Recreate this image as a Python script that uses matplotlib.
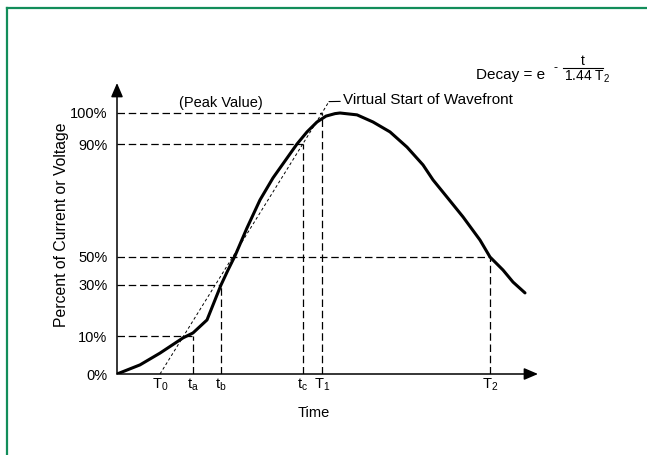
import numpy as np
import matplotlib
matplotlib.use("Agg")
import matplotlib.pyplot as plt
from matplotlib.lines import Line2D

plt.rcParams['font.family'] = ['Liberation Sans', 'DejaVu Sans']
plt.rcParams['mathtext.default'] = 'regular'

# wave shape (time in arbitrary units, value in %)
wave_t = [0.0, 2.3, 4.3, 6.6, 7.6, 9.0, 10.4, 11.1, 11.8, 13.0, 14.3, 15.6,
          17.0, 18.0, 19.0, 20.0, 20.9, 21.8, 22.3, 24.0, 25.6, 27.3, 29.0,
          30.6, 31.6, 33.0, 34.6, 36.3, 37.3, 38.6, 39.6, 40.8]
wave_pct = [0, 2.4, 5.5, 9.5, 11.2, 16.3, 30, 40.7, 50.4, 60.3, 70.2, 78.0,
            85.0, 90, 93.9, 97.1, 99.0, 99.8, 100, 99.4, 97.1, 93.9, 88.9,
            82.6, 77.3, 71.2, 64.2, 56.0, 50, 40.7, 32.1, 26.9]

# y levels and their labels
levels = [0, 10, 30, 50, 90, 100]
level_labels = ['0%', '10%', '30%', '50%', '90%', '100%']

# time marks
t_names = ['T$_0$', 't$_a$', 't$_b$', 't$_c$', 'T$_1$', 'T$_2$']
t_marks = [4.3, 7.6, 10.4, 18.6, 20.5, 37.3]
# level each time mark drops from
mark_level = [0, 10, 30, 90, 100, 50]

# virtual front line: T0 -> T1, extended a bit past the peak
front_t = [4.3, 20.5, 21.1]
front_pct = [0, 100, 103.3]

# schematic (non linear) vertical scale of the drawing
scale_pct = [0, 10, 30, 50, 90, 100, 115]
scale_h = [0, 38, 89, 117, 230, 261, 306]


def fwd(v):
    return np.interp(v, scale_pct, scale_h)


def inv(h):
    return np.interp(h, scale_h, scale_pct)


W, H = 647, 455
fig = plt.figure(figsize=(W / 100, H / 100), dpi=100)


def fx(x):
    return x / W


def fy(y):
    return 1 - y / H


ax = fig.add_axes([fx(117), fy(374), 421 / W, 291 / H])
ax.set_yscale('function', functions=(fwd, inv))
ax.set_xlim(0, 42.1)
ax.set_ylim(0, 110)
ax.patch.set_visible(False)
for s in ax.spines.values():
    s.set_visible(False)

dash = (0, (6, 3))
lw_d = 0.9

# guide lines from the y axis to each mark, then down to the time axis
for t, lv in zip(t_marks, mark_level):
    if lv == 0:
        continue
    ax.hlines(lv, 0, t, colors='k', linestyles=dash, lw=lw_d)
    ax.vlines(t, 0, lv, colors='k', linestyles=dash, lw=lw_d)

ax.plot(front_t, front_pct, color='k', lw=0.7, ls=(0, (3, 2.5)))

# the wave
ax.plot(wave_t, wave_pct, color='k', lw=2.2, solid_joinstyle='round',
        solid_capstyle='round')

# axes with arrow heads
arr = dict(arrowstyle='-|>,head_length=0.7,head_width=0.3', color='k',
           lw=1.1, shrinkA=0, shrinkB=0, mutation_scale=12)
ax.annotate('', xy=(1, 0), xytext=(0, 0), xycoords='axes fraction',
            arrowprops=arr)
ax.annotate('', xy=(0, 1), xytext=(0, 0), xycoords='axes fraction',
            arrowprops=arr)

fs = 10.5
ax.set_yticks(levels)
ax.set_yticklabels(level_labels, fontsize=fs)
ax.yaxis.set_minor_locator(matplotlib.ticker.NullLocator())
ax.set_xticks(t_marks)
ax.set_xticklabels(t_names, fontsize=fs)
ax.tick_params(axis='y', length=0, pad=7)
ax.tick_params(axis='x', length=0, pad=2)

ax.text(0.468, -0.11, 'Time', transform=ax.transAxes, ha='center', va='top',
        fontsize=fs)
ax.text(-0.133, 0.512, 'Percent of Current or Voltage', transform=ax.transAxes,
        rotation=90, ha='center', va='center', fontsize=11.3)

ax.text(10.4, 103.3, '(Peak Value)', ha='center', va='center', fontsize=fs)
ax.annotate('Virtual Start of Wavefront', xy=(21.2, 103.8),
            xytext=(22.6, 104.4), ha='left', va='center', fontsize=11,
            arrowprops=dict(arrowstyle='-', lw=0.8, color='k',
                            shrinkA=0, shrinkB=0))

# decay formula (dy shifts the whole block vertically)
fs2 = 11
dy = 6
fig.text(fx(476), fy(73 + dy), 'Decay = e', ha='left', va='baseline',
         fontsize=fs2)
fig.text(fx(556), fy(62 + dy), '-', ha='center', va='center', fontsize=fs2 - 2)
fig.text(fx(583), fy(59 + dy), 't', ha='center', va='baseline',
         fontsize=fs2 - 1)
fig.add_artist(Line2D([fx(563), fx(603)], [fy(61.5 + dy), fy(61.5 + dy)],
                      color='k', lw=0.8))
fig.text(fx(564), fy(75 + dy), '1.44 T$_2$', ha='left', va='baseline',
         fontsize=fs2 - 1)

# green frame
green = '#128d5a'
fig.add_artist(Line2D([fx(7), fx(7)], [fy(8), 0], color=green, lw=1.6))
fig.add_artist(Line2D([fx(7), 1], [fy(8), fy(8)], color=green, lw=1.6))

fig.savefig('out.png', dpi=100)
